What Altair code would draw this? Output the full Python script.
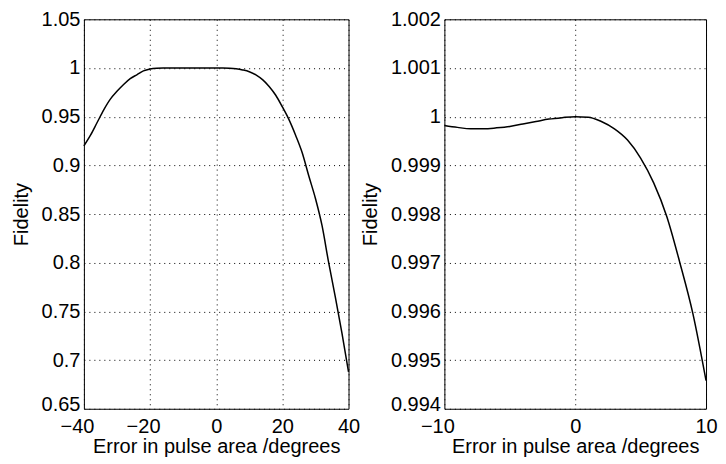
import altair as alt
import pandas as pd

# Left panel: fidelity vs pulse-area error (degrees)
left_x = [-40, -38, -36, -34, -32, -30, -28, -26, -24, -22, -20, -18, -16, -12, -8, -4, 0,
          2, 4, 6, 8, 10, 12, 14, 16, 18, 20, 22, 24, 26, 28, 30, 32, 34, 36, 38, 40]
left_y = [0.920, 0.931, 0.944, 0.957, 0.968, 0.976, 0.983, 0.989, 0.993, 0.997, 0.999, 0.9998, 1.0, 1.0, 1.0, 1.0, 1.0,
          1.0, 0.9998, 0.9992, 0.998, 0.9962, 0.993, 0.988, 0.981, 0.972, 0.960, 0.947, 0.931, 0.913, 0.889, 0.866,
          0.838, 0.800, 0.765, 0.728, 0.688]

# Right panel: zoomed view
right_x = [-10, -9, -8, -7, -6, -5, -4, -3, -2, -1, 0, 1, 2, 3, 4, 5, 6, 7, 8, 9, 10]
right_y = [0.99982, 0.99978, 0.99975, 0.99975, 0.99977, 0.99980, 0.99985, 0.99990, 0.99995, 0.99998, 1.00000,
           0.99999, 0.99990, 0.99975, 0.99952, 0.99915, 0.99864, 0.99795, 0.99700, 0.99595, 0.99458]

left_xticks = [-40, -20, 0, 20, 40]
left_yticks = [0.65, 0.7, 0.75, 0.8, 0.85, 0.9, 0.95, 1.0, 1.05]
right_xticks = [-10, 0, 10]
right_yticks = [0.994, 0.995, 0.996, 0.997, 0.998, 0.999, 1.0, 1.001, 1.002]

x_title = "Error in pulse area /degrees"
y_title = "Fidelity"

FONT = "Liberation Sans"

df_left = pd.DataFrame({"x": left_x, "y": left_y})
df_right = pd.DataFrame({"x": right_x, "y": right_y})


def panel(df, xdom, ydom, xticks, yticks, w):
    ymin = ydom[0]
    return alt.Chart(df).mark_line(color="black", strokeWidth=1.5, interpolate="monotone").encode(
        x=alt.X("x:Q",
                scale=alt.Scale(domain=xdom, nice=False, zero=False),
                axis=alt.Axis(values=xticks, title=x_title, format="d",
                              labelPadding=8, titlePadding=0,
                              labelOffset={"condition": {"test": "datum.value < 0", "value": -7}, "value": 0})),
        y=alt.Y("y:Q",
                scale=alt.Scale(domain=ydom, nice=False, zero=False),
                axis=alt.Axis(values=yticks, title=y_title, format=".4~g",
                              labelPadding=4, titlePadding=10,
                              labelOffset={"condition": {"test": f"abs(datum.value - {ymin}) < 1e-9", "value": -4},
                                           "value": 0})),
    ).properties(width=w, height=390)


left = panel(df_left, [-40, 40], [0.65, 1.05], left_xticks, left_yticks, 265)
right = panel(df_right, [-10, 10], [0.994, 1.002], right_xticks, right_yticks, 262)

chart = alt.hconcat(left, right, spacing=96, bounds="flush").properties(
    padding={"top": 0, "left": 2, "right": 0, "bottom": 0},
    background="white",
).configure_view(
    stroke="black", strokeWidth=1
).configure_axis(
    labelFont=FONT, labelFontSize=20, labelColor="black",
    titleFont=FONT, titleFontSize=20, titleFontWeight="normal", titleColor="black",
    ticks=False, domain=False, grid=True,
    gridColor="black", gridDash=[1, 4], gridWidth=1, gridOpacity=1,
    labelFlush=False, labelOverlap=False,
)

chart.save("out.html", embed_options={"renderer": "svg", "actions": False})
